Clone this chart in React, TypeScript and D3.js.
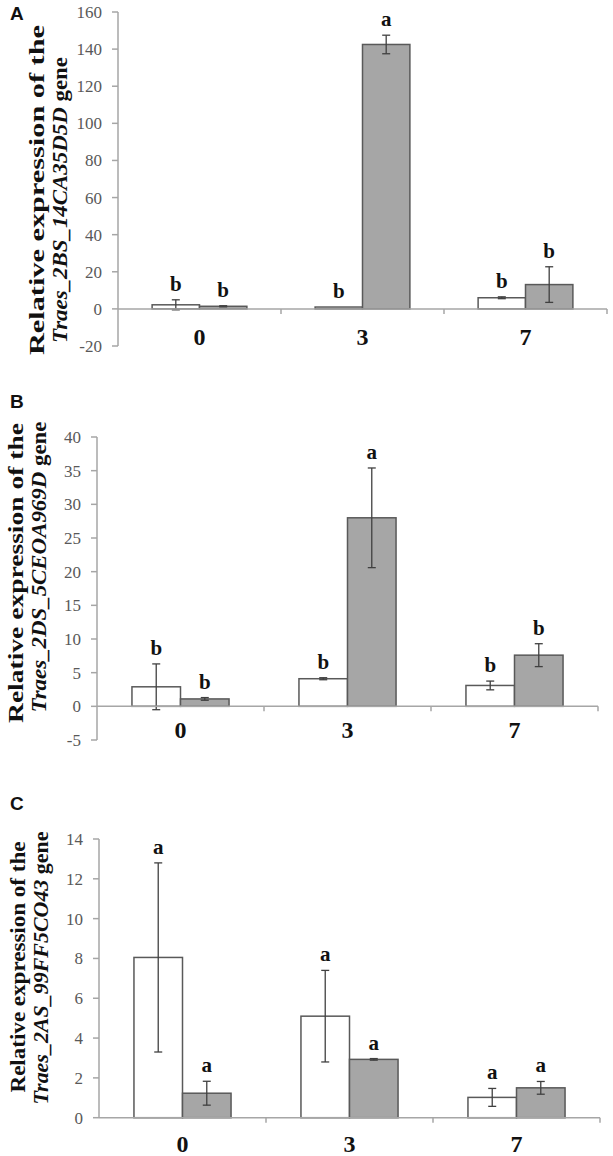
import React from "react";
import * as d3 from "d3";

// ---------- data ----------
const days = ["0", "3", "7"];
const groups = ["control", "treated"];

// Panel A: Traes_2BS_14CA35D5D
const aControl = [2.2, 1.0, 6.0];
const aControlErr = [2.7, 0, 0.5];
const aTreated = [1.4, 142.5, 13.1];
const aTreatedErr = [0.3, 5.0, 9.6];
const aLettersControl = ["b", "b", "b"];
const aLettersTreated = ["b", "a", "b"];
const aTicks = [-20, 0, 20, 40, 60, 80, 100, 120, 140, 160];
const aGene = "Traes_2BS_14CA35D5D";

// Panel B: Traes_2DS_5CEOA969D
const bControl = [2.9, 4.1, 3.1];
const bControlErr = [3.4, 0.15, 0.65];
const bTreated = [1.1, 28.0, 7.6];
const bTreatedErr = [0.2, 7.4, 1.7];
const bLettersControl = ["b", "b", "b"];
const bLettersTreated = ["b", "a", "b"];
const bTicks = [-5, 0, 5, 10, 15, 20, 25, 30, 35, 40];
const bGene = "Traes_2DS_5CEOA969D";

// Panel C: Traes_2AS_99FF5CO43
const cControl = [8.05, 5.1, 1.02];
const cControlErr = [4.75, 2.3, 0.45];
const cTreated = [1.23, 2.93, 1.5];
const cTreatedErr = [0.6, 0.04, 0.32];
const cLettersControl = ["a", "a", "a"];
const cLettersTreated = ["a", "a", "a"];
const cTicks = [0, 2, 4, 6, 8, 10, 12, 14];
const cGene = "Traes_2AS_99FF5CO43";

// ---------- styling / layout ----------
const SERIF = "'Liberation Serif', 'Times New Roman', Times, serif";
const SANS = "'Liberation Sans', Arial, Helvetica, sans-serif";
const AXIS = "#a6a6a6";
const TICKTXT = "#595959";
const BARSTROKE = "#595959";
const GRAYFILL = "#a6a6a6";
const ERR = "#404040";

const layouts = [
  {
    tag: "A", tagY: 20, left: 118, right: 607, top: 12, bottom: 346,
    l1: { x: 44, cy: 190, len: 330 }, l2: { x: 67, cy: 200, len: 286 }, catOff: 36,
  },
  {
    tag: "B", tagY: 408, left: 97, right: 598, top: 437, bottom: 740,
    l1: { x: 23, cy: 573, len: 300 }, l2: { x: 46, cy: 567, len: 291 }, catOff: 32,
  },
  {
    tag: "C", tagY: 810, left: 99, right: 600, top: 839, bottom: 1117.7,
    l1: { x: 25, cy: 967, len: 251 }, l2: { x: 48, cy: 968, len: 273 }, catOff: 34,
  },
];

const panelData = [
  { control: aControl, controlErr: aControlErr, treated: aTreated, treatedErr: aTreatedErr, lc: aLettersControl, lt: aLettersTreated, ticks: aTicks, gene: aGene },
  { control: bControl, controlErr: bControlErr, treated: bTreated, treatedErr: bTreatedErr, lc: bLettersControl, lt: bLettersTreated, ticks: bTicks, gene: bGene },
  { control: cControl, controlErr: cControlErr, treated: cTreated, treatedErr: cTreatedErr, lc: cLettersControl, lt: cLettersTreated, ticks: cTicks, gene: cGene },
];

function Panel({ lay, d }: any) {
  const ticks: number[] = d.ticks;
  const domain = [ticks[0], ticks[ticks.length - 1]];
  const x = d3.scaleBand().domain(days).range([lay.left, lay.right]).padding(0);
  const xi = d3.scaleBand().domain(groups).range([0, x.bandwidth()]).paddingInner(0).paddingOuter(0.72);
  const y = d3.scaleLinear().domain(domain).range([lay.bottom, lay.top]);
  const y0 = y(0);
  const series = [
    { key: "control", vals: d.control, errs: d.controlErr, letters: d.lc, fill: "#ffffff" },
    { key: "treated", vals: d.treated, errs: d.treatedErr, letters: d.lt, fill: GRAYFILL },
  ];
  const capW = 4;
  return (
    <g>
      <text x={10} y={lay.tagY} fontFamily={SANS} fontWeight="bold" fontSize={19} fill="#111">{lay.tag}</text>
      {/* y label */}
      <text
        transform={`translate(${lay.l1.x},${lay.l1.cy}) rotate(-90)`}
        textAnchor="middle" fontFamily={SERIF} fontWeight="bold" fontSize={22} fill="#111"
        textLength={lay.l1.len} lengthAdjust="spacingAndGlyphs"
      >Relative expression of the</text>
      <text
        transform={`translate(${lay.l2.x},${lay.l2.cy}) rotate(-90)`}
        textAnchor="middle" fontFamily={SERIF} fontWeight="bold" fontSize={22} fill="#111"
        textLength={lay.l2.len} lengthAdjust="spacingAndGlyphs"
      ><tspan fontStyle="italic">{d.gene}</tspan><tspan> gene</tspan></text>
      {/* y axis */}
      <line x1={lay.left} x2={lay.left} y1={y(domain[0])} y2={y(domain[1])} stroke={AXIS} strokeWidth={1.5} />
      {ticks.map((t) => (
        <g key={t}>
          <line x1={lay.left - 6} x2={lay.left} y1={y(t)} y2={y(t)} stroke={AXIS} strokeWidth={1.5} />
          <text x={lay.left - 16} y={y(t)} dy="0.35em" textAnchor="end" fontFamily={SERIF} fontSize={17} fill={TICKTXT}>{t}</text>
        </g>
      ))}
      {/* bars */}
      {series.map((s) =>
        days.map((day, i) => {
          const bx = (x(day) as number) + (xi(s.key) as number);
          const bw = xi.bandwidth();
          const v = s.vals[i];
          const e = s.errs[i];
          const cx = bx + bw / 2;
          return (
            <g key={s.key + day}>
              <rect x={bx} y={Math.min(y(v), y0)} width={bw} height={Math.abs(y0 - y(v))} fill={s.fill} stroke={BARSTROKE} strokeWidth={1.5} />
              {e > 0 && (
                <g stroke={ERR} strokeWidth={1.3}>
                  <line x1={cx} x2={cx} y1={y(v + e)} y2={y(v - e)} />
                  <line x1={cx - capW} x2={cx + capW} y1={y(v + e)} y2={y(v + e)} />
                  <line x1={cx - capW} x2={cx + capW} y1={y(v - e)} y2={y(v - e)} />
                </g>
              )}
              <text x={cx} y={y(v + e) - 9} textAnchor="middle" fontFamily={SERIF} fontWeight="bold" fontSize={21} fill="#111">{s.letters[i]}</text>
            </g>
          );
        })
      )}
      {/* x axis */}
      <line x1={lay.left} x2={lay.right} y1={y0} y2={y0} stroke={AXIS} strokeWidth={1.5} />
      {days.map((day) => {
        const bx = (x(day) as number) + x.bandwidth();
        return <line key={"t" + day} x1={bx} x2={bx} y1={y0} y2={y0 + 5} stroke={AXIS} strokeWidth={1.5} />;
      })}
      {days.map((day) => (
        <text key={"l" + day} x={(x(day) as number) + x.bandwidth() / 2} y={y0 + lay.catOff} textAnchor="middle" fontFamily={SERIF} fontWeight="bold" fontSize={24} fill="#111">{day}</text>
      ))}
    </g>
  );
}

export default function App() {
  return (
    <svg width={613} height={1156} style={{ position: "absolute", left: 0, top: 0, background: "#fff" }}>
      <rect width={613} height={1156} fill="#fff" />
      {layouts.map((lay, k) => (
        <Panel key={lay.tag} lay={lay} d={panelData[k]} />
      ))}
    </svg>
  );
}
